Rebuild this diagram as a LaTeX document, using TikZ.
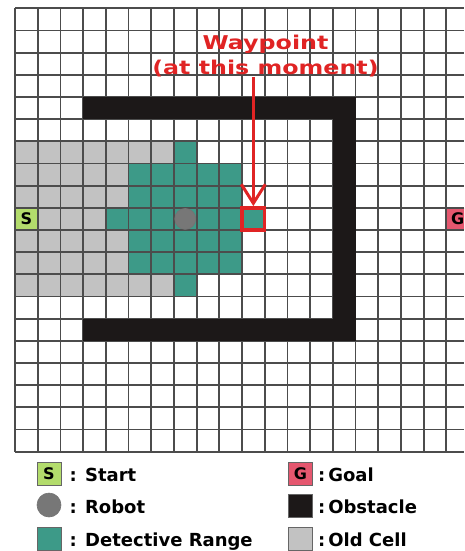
\documentclass[tikz,border=0pt]{standalone}
\usepackage{fontspec}
\setmainfont{DejaVu Sans}
\usepackage{graphicx}
\usetikzlibrary{arrows.meta,positioning}
\definecolor{detect}{HTML}{3D9A88}
\definecolor{oldcell}{HTML}{C2C2C2}
\definecolor{startgreen}{HTML}{B3DC6C}
\definecolor{goalpink}{HTML}{E5576F}
\definecolor{obstacle}{HTML}{1C1818}
\definecolor{robotgray}{HTML}{777777}
\definecolor{wpred}{HTML}{E02424}
\newcommand{\widetext}[1]{\scalebox{1.25}[1]{#1}}

\begin{document}
\begin{tikzpicture}[
  x=1pt, y=-1pt,
  >=Latex,
  % Styles
  gridline/.style={draw=black!70, line width=1.8pt},
  cellnode/.style={inner sep=0pt, minimum width=22.7pt, minimum height=22.17pt,
    font=\fontsize{16}{16}\selectfont\bfseries},
  startcell/.style={cellnode, fill=startgreen},
  goalcell/.style={cellnode, fill=goalpink},
  robot/.style={circle, fill=robotgray, draw=black!55, line width=0.6pt,
    inner sep=0pt, minimum size=21pt},
  waycell/.style={cellnode, draw=wpred, line width=3.5pt},
  wplabel/.style={text=wpred, align=center, inner sep=0pt,
    font=\fontsize{19}{25}\selectfont\bfseries},
  wayarrow/.style={-{Straight Barb[length=19pt,width=24pt]}, draw=wpred, line width=3pt},
  % Legend styles
  legbox/.style={draw=black!60, line width=0.8pt, inner sep=0pt,
    minimum width=24pt, minimum height=23pt, font=\fontsize{16}{16}\selectfont\bfseries},
  legtext/.style={inner sep=0pt, text height=16pt, text depth=0pt,
    font=\fontsize{18}{18}\selectfont\bfseries},
]
\useasboundingbox (0,0) rectangle (464,551);
\clip (0,0) rectangle (464,551);

% === Map grid ===
\begin{scope}[shift={(15,8.3)}, x=22.7pt, y=-22.17pt]
  % old cells
  \fill[oldcell] (0,6) rectangle (7,7);
  \fill[oldcell] (0,7) rectangle (5,9);
  \fill[oldcell] (1,9) rectangle (4,10);
  \fill[oldcell] (0,10) rectangle (5,12);
  \fill[oldcell] (0,12) rectangle (7,13);
  % detective range
  \fill[detect] (7,6) rectangle (8,7);
  \fill[detect] (5,7) rectangle (10,9);
  \fill[detect] (4,9) rectangle (11,10);
  \fill[detect] (5,10) rectangle (10,12);
  \fill[detect] (7,12) rectangle (8,13);

  \node[startcell] (start) at (0.5,9.5) {S};
  \node[goalcell] (goal) at (19.5,9.5) {G};

  % cell lines
  \foreach \i in {0,...,19}
    \draw[gridline] (\i,0) -- (\i,20);
  \foreach \j in {0,...,20}
    \draw[gridline] (0,\j) -- (19.8,\j);

  % obstacle
  \fill[obstacle] (3,4) rectangle (15,5);
  \fill[obstacle] (14,4) rectangle (15,15);
  \fill[obstacle] (3,14) rectangle (15,15);

  \node[robot] (robot) at (7.5,9.5) {};
  \node[waycell] (wp) at (10.5,9.5) {};
\end{scope}

% === Waypoint label ===
\node[wplabel] (wplab) at (265.5,56) {\widetext{Waypoint}\\\widetext{(at this moment)}};
\draw[wayarrow] (wplab.south -| wp.north) -- (wp.north);

% === Legend ===
\node[legbox, fill=startgreen] (legS) at (49,473.5) {S};
\node[legtext, right=8pt of legS] (legStxt) {: Start};
\node[circle, fill=robotgray, draw=black!55, line width=0.6pt, inner sep=0pt,
  minimum size=24pt] (legR) at (49,505) {};
\node[legtext, right=8pt of legR] (legRtxt) {: Robot};
\node[legbox, fill=detect] (legD) at (49,538.5) {};
\node[legtext, right=8pt of legD] (legDtxt) {: Detective Range};

\node[legbox, fill=goalpink] (legG) at (300.5,473.5) {G};
\node[legtext, right=5pt of legG] (legGtxt) {:\,Goal};
\node[legbox, fill=obstacle] (legO) at (300.5,505.5) {};
\node[legtext, right=5pt of legO] (legOtxt) {:\,Obstacle};
\node[legbox, fill=oldcell] (legC) at (300.5,538.5) {};
\node[legtext, right=5pt of legC] (legCtxt) {:\,Old Cell};

\end{tikzpicture}
\end{document}
